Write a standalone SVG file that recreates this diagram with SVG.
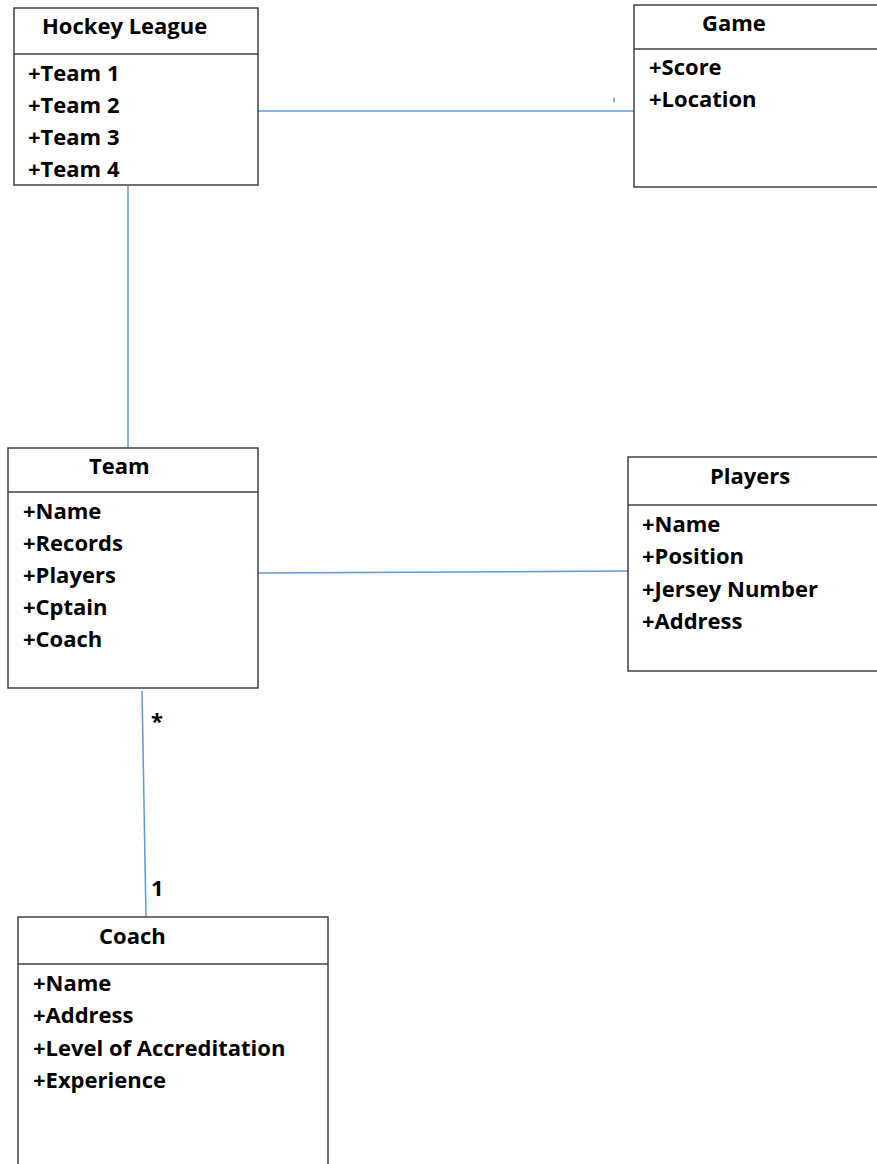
<svg xmlns="http://www.w3.org/2000/svg" width="877" height="1164" viewBox="0 0 877 1164">
<style>
.box{fill:#fff;stroke:#404040;stroke-width:1.5}
.div{stroke:#404040;stroke-width:1.5}
.t{font-family:"Open Sans","Liberation Sans",sans-serif;font-weight:bold;font-size:22px;fill:#000}
.c{stroke:#5B9BD5;stroke-width:1.5;fill:none}
</style>
<rect width="877" height="1164" fill="#fff"/>
<g id="connectors">
<line class="c" x1="258" y1="111" x2="634" y2="111"/>
<line class="c" x1="614" y1="97.5" x2="614" y2="102.5"/>
<line class="c" x1="128" y1="186" x2="128" y2="448"/>
<line class="c" x1="258" y1="573" x2="628" y2="571"/>
<line class="c" x1="142" y1="691" x2="146" y2="917"/>
<text class="t" x="151" y="729">*</text>
<text class="t" x="151" y="896">1</text>
</g>
<g id="hockey-league">
<rect class="box" x="14" y="8" width="244" height="177"/>
<line class="div" x1="14" y1="54" x2="258" y2="54"/>
<text class="t" x="42" y="34">Hockey League</text>
<text class="t" x="28" y="81">+Team 1</text>
<text class="t" x="28" y="113">+Team 2</text>
<text class="t" x="28" y="145">+Team 3</text>
<text class="t" x="28" y="177">+Team 4</text>
</g>
<g id="game">
<rect class="box" x="634" y="5" width="260" height="182"/>
<line class="div" x1="634" y1="49" x2="877" y2="49"/>
<text class="t" x="702" y="31">Game</text>
<text class="t" x="649" y="75">+Score</text>
<text class="t" x="649" y="107">+Location</text>
</g>
<g id="team">
<rect class="box" x="8" y="448" width="250" height="240"/>
<line class="div" x1="8" y1="492" x2="258" y2="492"/>
<text class="t" x="89" y="474">Team</text>
<text class="t" x="23" y="519">+Name</text>
<text class="t" x="23" y="551">+Records</text>
<text class="t" x="23" y="583">+Players</text>
<text class="t" x="23" y="615">+Cptain</text>
<text class="t" x="23" y="647">+Coach</text>
</g>
<g id="players">
<rect class="box" x="628" y="457" width="260" height="214"/>
<line class="div" x1="628" y1="505" x2="877" y2="505"/>
<text class="t" x="710" y="484">Players</text>
<text class="t" x="642" y="532">+Name</text>
<text class="t" x="642" y="564">+Position</text>
<text class="t" x="642" y="597">+Jersey Number</text>
<text class="t" x="642" y="629">+Address</text>
</g>
<g id="coach">
<rect class="box" x="18" y="917" width="310" height="260"/>
<line class="div" x1="18" y1="964" x2="328" y2="964"/>
<text class="t" x="99" y="944">Coach</text>
<text class="t" x="33" y="991">+Name</text>
<text class="t" x="33" y="1023">+Address</text>
<text class="t" x="33" y="1056">+Level of Accreditation</text>
<text class="t" x="33" y="1088">+Experience</text>
</g>
</svg>
